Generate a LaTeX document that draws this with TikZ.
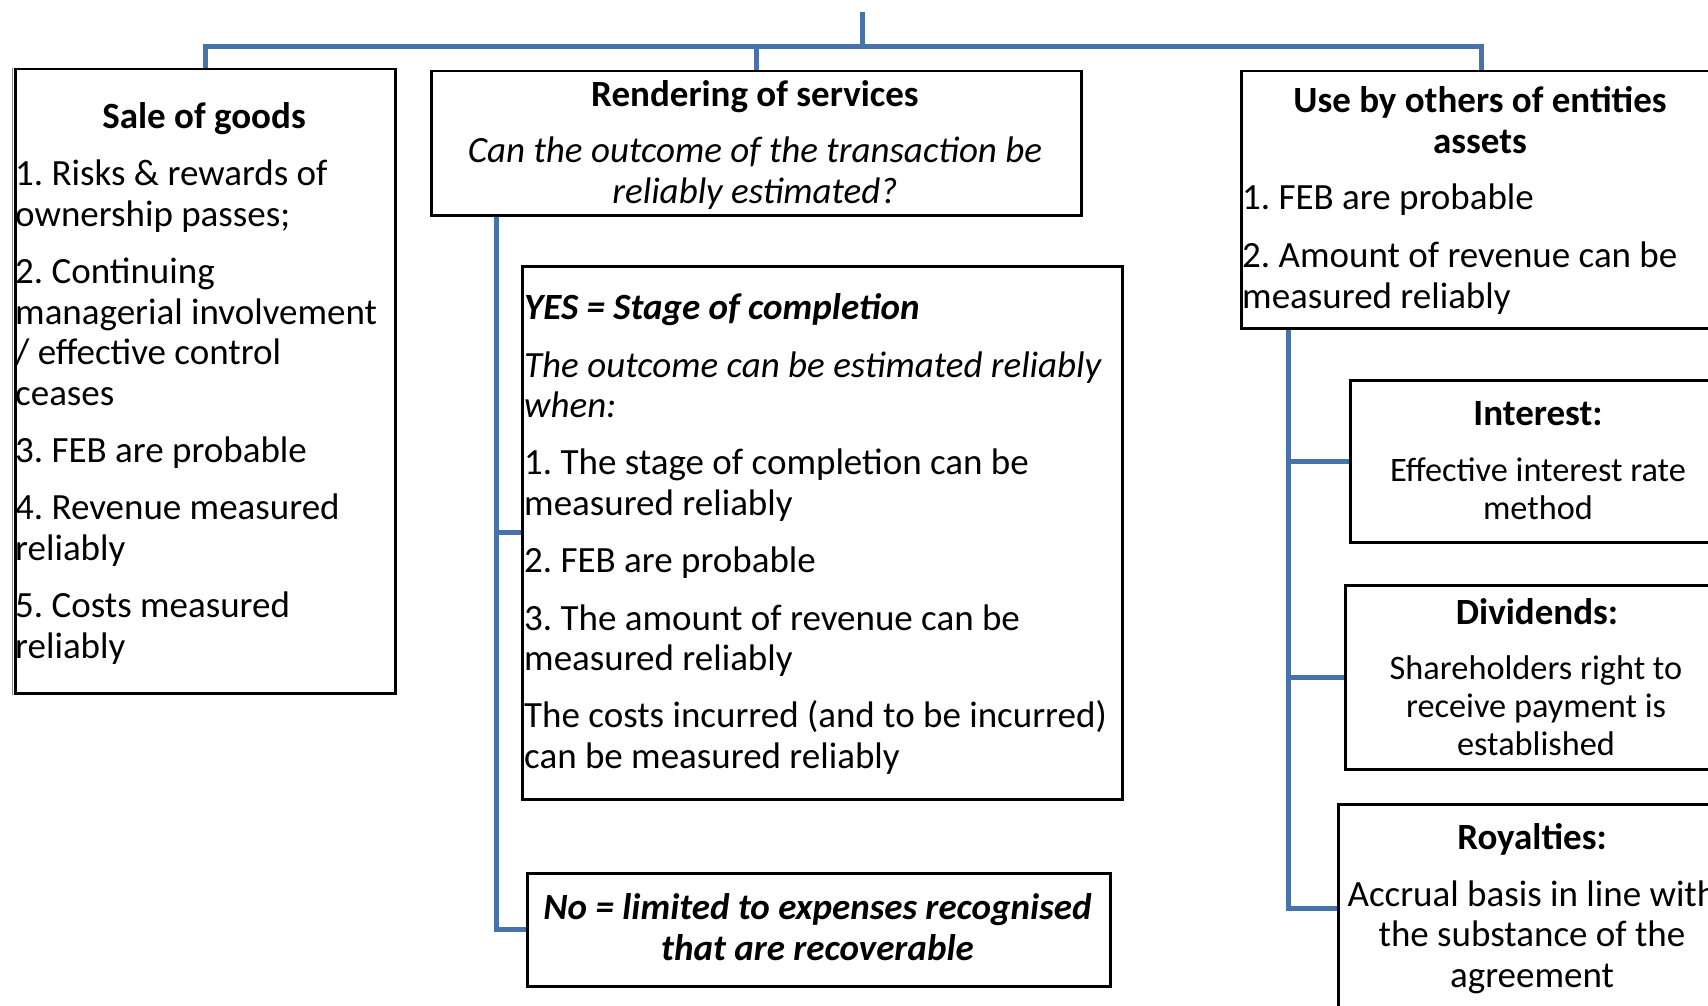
\documentclass[tikz,border=0pt]{standalone}
\usepackage{fontspec}
\setmainfont{Carlito}
\usetikzlibrary{calc,backgrounds}
\definecolor{connblue}{RGB}{72,114,170}
\newcommand\bodyfnt{\fontsize{37}{40.6}\selectfont}
\newcommand\smbodyfnt{\fontsize{34.3}{38}\selectfont}
\frenchspacing
\begin{document}
\frenchspacing
\begin{tikzpicture}[x=1pt,y=-1pt,
  box/.style={draw=black, line width=2.5pt, fill=white, inner sep=0pt, anchor=north west},
  conn/.style={draw=connblue, line width=5pt},
  ttl/.style={inner sep=0pt, font=\bodyfnt\bfseries, anchor=base},
  bodytxt/.style={inner sep=0pt, font=\bodyfnt},
  smtxt/.style={inner sep=0pt, font=\smbodyfnt}]
\path[use as bounding box] (0,0) rectangle (1708,1006);
\clip (0,0) rectangle (1708,1006);

% boxes
\node[box, minimum width=380, minimum height=624] (sale) at (14,68) {};
\draw[black!45, line width=1pt] ($(sale.north west)+(-2,0)$) -- ($(sale.south west)+(-2,0)$);
\node[box, minimum width=650, minimum height=144] (rend) at (430,70) {};
\node[box, minimum width=600, minimum height=533] (yes) at (521,265) {};
\node[box, minimum width=583, minimum height=113] (no) at (526,872) {};
\node[box, minimum width=481, minimum height=257] (use) at (1240,70) {};
\node[box, minimum width=378, minimum height=162] (int) at (1349,379) {};
\node[box, minimum width=384, minimum height=184] (div) at (1344,584) {};
\node[box, minimum width=390, minimum height=208] (roy) at (1337,803) {};

% texts (multi-line nodes: base anchor = baseline of last line)
\begin{scope}[shift={(0,2.3)}]
\node[ttl] (saleT) at (204,126) {Sale of goods};
\node[bodytxt, anchor=base west, align=left] (saleB) at (15,656)
  {1. Risks \& rewards of\\ownership passes;\\[16.7pt]2. Continuing\\managerial involvement\\/ effective control\\ceases\\[16.7pt]3. FEB are probable\\[16.7pt]4. Revenue measured\\reliably\\[16.7pt]5. Costs measured\\reliably};

\node[ttl] (rendT) at (755,104) {Rendering of services};
\node[bodytxt, anchor=base, align=center, font=\bodyfnt\itshape] (rendB) at (755,201)
  {Can the outcome of the transaction be\\reliably estimated?};

\node[bodytxt, anchor=base west, align=left] (yesB) at (524,766)
  {{\bfseries\itshape YES = Stage of completion}\\[17.4pt]{\itshape The outcome can be estimated reliably}\\{\itshape when:}\\[16.4pt]1. The stage of completion can be\\measured reliably\\[16.8pt]2. FEB are probable\\[16.9pt]3. The amount of revenue can be\\measured reliably\\[16.4pt]The costs incurred (and to be incurred)\\can be measured reliably};

\node[bodytxt, anchor=base, align=center, font=\bodyfnt\bfseries\itshape] (noB) at (817.5,958)
  {No = limited to expenses recognised\\that are recoverable};

\node[ttl, align=center] (useT) at (1480,151) {Use by others of entities\\assets};
\node[bodytxt, anchor=base west, align=left] (useB) at (1242,306)
  {1. FEB are probable\\[17.4pt]2. Amount of revenue can be\\measured reliably};

\node[ttl] (intT) at (1538,423) {Interest:};
\node[smtxt, anchor=base, align=center] (intB) at (1538,517) {Effective interest rate\\method};

\node[ttl] (divT) at (1537,621.7) {Dividends:};
\node[smtxt, anchor=base, align=center] (divB) at (1536,752.7) {Shareholders right to\\receive payment is\\established};

\node[ttl] (royT) at (1532,847) {Royalties:};
\node[bodytxt, anchor=base, align=center] (royB) at (1532,985) {Accrual basis in line with\\the substance of the\\agreement};
\end{scope}

% connectors
\coordinate (root) at (862,12);
\coordinate (bus) at (862,47);
\coordinate (rs) at ($(rend.south west)+(66,0)$);
\coordinate (us) at ($(use.south west)+(48,0)$);
\begin{scope}[on background layer]
\draw[conn] (root) -- (bus);
\draw[conn] (bus) -| (sale.north);
\draw[conn] (bus) -| (rend.north);
\draw[conn] (bus) -| (use.north);
\draw[conn] (rs) |- (yes.west);
\draw[conn] (rs) |- (no.west);
\draw[conn] (us) |- (int.west);
\draw[conn] (us) |- (div.west);
\draw[conn] (us) |- (roy.west);
\end{scope}
\end{tikzpicture}
\end{document}
